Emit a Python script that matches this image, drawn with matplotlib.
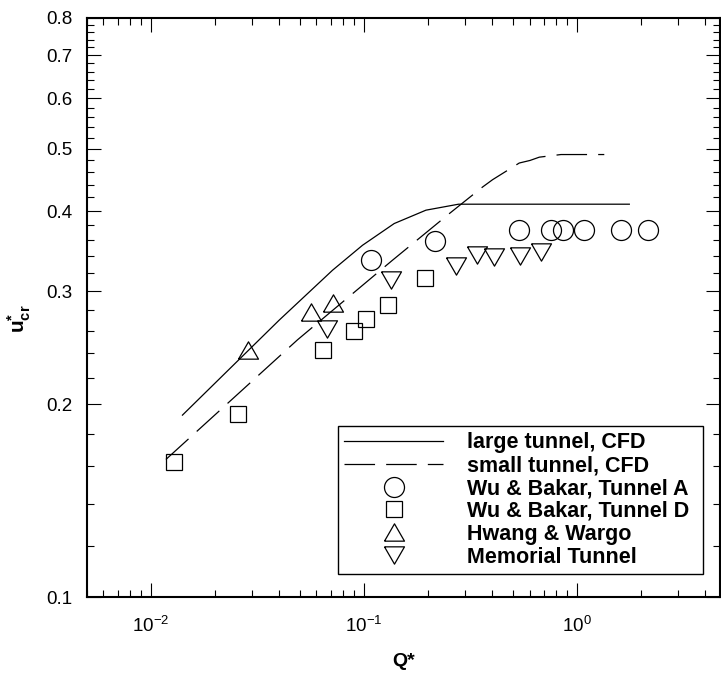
import numpy as np
import matplotlib
matplotlib.use("Agg")
import matplotlib.pyplot as plt
import matplotlib.ticker as mtick

plt.rcParams['font.family'] = ['Liberation Sans', 'DejaVu Sans']
plt.rcParams['mathtext.fontset'] = 'custom'
plt.rcParams['mathtext.rm'] = 'Liberation Sans'
plt.rcParams['mathtext.bf'] = 'Liberation Sans:bold'
plt.rcParams['lines.scale_dashes'] = False

# CFD curves
large_x = [0.0141, 0.0401, 0.0714, 0.0987, 0.139, 0.1959, 0.2786, 1.764]
large_y = [0.1923, 0.2704, 0.3235, 0.3538, 0.3825, 0.4013, 0.410, 0.410]
small_x = [0.01179, 0.0489, 0.136, 0.252, 0.361, 0.4025, 0.537, 0.603, 0.667, 0.843, 1.346]
small_y = [0.164, 0.252, 0.335, 0.3963, 0.436, 0.4477, 0.4753, 0.4797, 0.4854, 0.490, 0.490]

# measurements
wu_a_x = [0.108, 0.216, 0.537, 0.757, 0.858, 1.076, 1.612, 2.15]
wu_a_y = [0.335, 0.359, 0.374, 0.374, 0.374, 0.374, 0.374, 0.374]
wu_d_x = [0.0129, 0.0258, 0.0646, 0.0902, 0.103, 0.1294, 0.1938]
wu_d_y = [0.1623, 0.1928, 0.2427, 0.2602, 0.272, 0.2852, 0.3146]
hw_x = [0.0285, 0.0565, 0.0714]
hw_y = [0.2427, 0.2786, 0.2871]
mem_x = [0.0676, 0.134, 0.271, 0.3385, 0.4068, 0.541, 0.679]
mem_y = [0.2624, 0.312, 0.328, 0.3411, 0.339, 0.341, 0.345]

y_major = [0.1, 0.2, 0.3, 0.4, 0.5, 0.6, 0.7, 0.8]
y_labels = ['0.1', '0.2', '0.3', '0.4', '0.5', '0.6', '0.7', '0.8']
x_major = [0.01, 0.1, 1.0]
x_labels = ['$10^{-2}$', '$10^{-1}$', '$10^{0}$']

# equilateral triangles, wider than the default ones
tri_up = [(-1, -0.866), (1, -0.866), (0, 0.866), (-1, -0.866)]
tri_dn = [(-1, 0.866), (1, 0.866), (0, -0.866), (-1, 0.866)]

fig = plt.figure(figsize=(7.21, 6.73), dpi=100)
ax = fig.add_axes([0.12, 0.1125, 0.8786, 0.8608])

ax.plot(large_x, large_y, '-', color='k', lw=0.9, label='large tunnel, CFD')
ax.plot(small_x, small_y, color='k', lw=0.9, dashes=(22, 8), label='small tunnel, CFD')
mk = dict(ls='none', mfc='none', mec='k', mew=0.9)
ax.plot(wu_a_x, wu_a_y, marker='o', ms=14.4, label='Wu & Bakar, Tunnel A', **mk)
ax.plot(wu_d_x, wu_d_y, marker='s', ms=11.2, label='Wu & Bakar, Tunnel D', **mk)
ax.plot(hw_x, hw_y, marker=tri_up, ms=14.4, label='Hwang & Wargo', **mk)
ax.plot(mem_x, mem_y, marker=tri_dn, ms=14.4, label='Memorial Tunnel', **mk)

ax.set_xscale('log')
ax.set_yscale('log')
ax.set_xlim(0.005, 4.7)
ax.set_ylim(0.1, 0.8)

ax.yaxis.set_major_locator(mtick.FixedLocator(y_major))
ax.yaxis.set_major_formatter(mtick.FixedFormatter(y_labels))
y_minor = [v / 100 for v in range(12, 80, 2) if v % 10 != 0]
ax.yaxis.set_minor_locator(mtick.FixedLocator(y_minor))
ax.yaxis.set_minor_formatter(mtick.NullFormatter())

ax.xaxis.set_major_locator(mtick.FixedLocator(x_major))
ax.xaxis.set_major_formatter(mtick.FixedFormatter(x_labels))
ax.xaxis.set_minor_locator(mtick.LogLocator(base=10, subs=np.arange(2, 10), numticks=20))
ax.xaxis.set_minor_formatter(mtick.NullFormatter())

ax.tick_params(which='both', direction='in', top=True, right=True, width=0.8, colors='k')
ax.tick_params(which='major', length=10, labelsize=13.5)
ax.tick_params(axis='y', which='major', pad=10)
ax.tick_params(axis='x', which='major', pad=13)
ax.tick_params(which='minor', length=5)
for s in ax.spines.values():
    s.set_linewidth(1.5)

ax.set_xlabel('Q*', fontsize=14, fontweight='bold')
ax.xaxis.set_label_coords(0.5, -0.096)
ax.set_ylabel(r'$\mathbf{u^{*}_{cr}}$', fontsize=15)
ax.yaxis.set_label_coords(-0.085, 0.48)

leg = ax.legend(loc='upper left', bbox_to_anchor=(0.397, 0.0437, 0.5754, 0.252),
                mode='expand', borderaxespad=0,
                prop={'weight': 'bold', 'size': 15.5}, numpoints=1,
                handlelength=4.6, handletextpad=1.07, labelspacing=0.085,
                borderpad=0.3, fancybox=False, frameon=True, framealpha=1)
leg.get_frame().set_edgecolor('k')
leg.get_frame().set_linewidth(1.0)

fig.savefig('out.png', dpi=100)
